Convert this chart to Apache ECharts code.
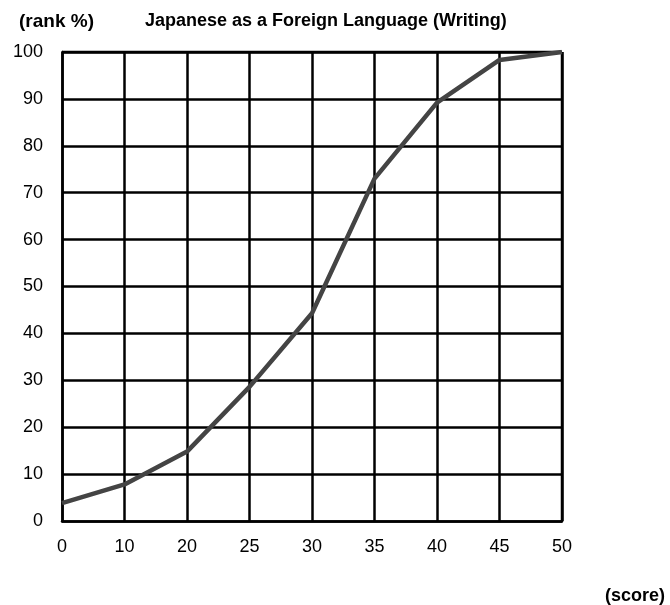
<!DOCTYPE html>
<html><head><meta charset="utf-8">
<script src="https://cdn.jsdelivr.net/npm/echarts@6/dist/echarts.min.js"></script>
<style>html,body{margin:0;padding:0;background:#fff}#c{width:670px;height:605px}</style>
</head><body><div id="c"></div>
<script>
const categories = ['0','10','20','25','30','35','40','45','50'];
const rankValues = [3.8, 7.8, 14.8, 28.6, 44.3, 73, 89.2, 98.3, 100];
const yTicks = [0,10,20,30,40,50,60,70,80,90,100];
const FONT = '"Liberation Sans",Arial,sans-serif';
const chart = echarts.init(document.getElementById('c'));
chart.setOption({
  animation:false,
  backgroundColor:'#fff',
  title:[
    {text:'(rank %)', left:14, top:7, textStyle:{fontFamily:FONT, fontSize:19, fontWeight:'bold', color:'#000'}},
    {text:'Japanese as a Foreign Language (Writing)', left:140, top:7, textStyle:{fontFamily:FONT, fontSize:18, fontWeight:'bold', color:'#000'}},
    {text:'(score)', left:600, top:582, textStyle:{fontFamily:FONT, fontSize:18, fontWeight:'bold', color:'#000'}}
  ],
  grid:{left:62, right:108, top:52, bottom:84, containLabel:false},
  xAxis:{type:'category', data:categories, boundaryGap:false,
    axisLine:{lineStyle:{color:'#000', width:2.5}},
    axisTick:{show:false},
    axisLabel:{fontFamily:FONT, fontSize:18, color:'#000', margin:17},
    splitLine:{show:true, lineStyle:{color:'#000', width:2.5}}},
  yAxis:{type:'value', min:0, max:100, interval:10,
    axisLine:{show:true, lineStyle:{color:'#000', width:2.5}},
    axisTick:{show:false},
    axisLabel:{fontFamily:FONT, fontSize:18, color:'#000', margin:19,
      formatter:v=>yTicks.includes(v)?String(v):''},
    splitLine:{show:true, lineStyle:{color:'#000', width:2.5}}},
  series:[{type:'line', data:rankValues, symbol:'none', smooth:false,
    lineStyle:{color:'#444', width:4.5}}]
});
chart.setOption({graphic:[{type:'rect', shape:{x:562-1.25, y:52, width:2.5, height:469}, style:{fill:'#000'}},
  {type:'rect', shape:{x:62, y:52-1.25, width:500, height:2.5}, style:{fill:'#000'}}]});
</script></body></html>
